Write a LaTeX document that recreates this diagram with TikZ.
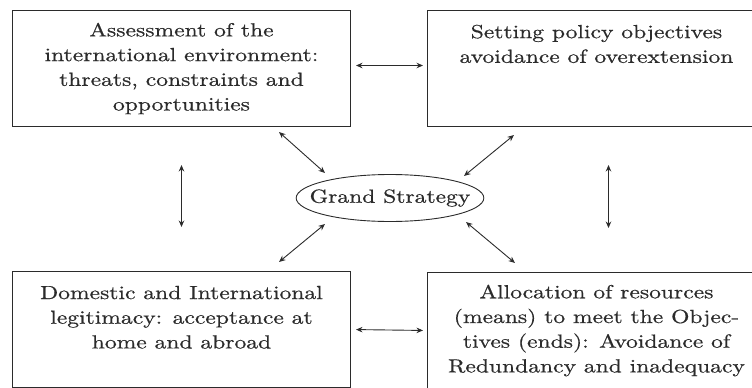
\documentclass[tikz,border=0pt]{standalone}
\usepackage{fontspec}
\setmainfont{lmroman10-regular.otf}[FakeStretch=1.24, FakeBold=0.6]
\usetikzlibrary{arrows.meta,positioning,shapes.geometric}
\definecolor{ink}{HTML}{2B2B2B}

\begin{document}
\begin{tikzpicture}[x=1pt, y=-1pt,
  panel/.style={draw=ink, line width=1pt, minimum width=338pt, minimum height=116pt,
                align=center, inner sep=0pt, text=ink, font=\fontsize{19}{24.7}\selectfont},
  hub/.style={draw=ink, ellipse, line width=0.9pt, minimum width=187pt, minimum height=47pt,
              inner xsep=-14pt, inner ysep=0pt, text=ink, font=\fontsize{19}{23}\selectfont},
  arr/.style={{Stealth[length=6.5pt,width=5.5pt]}-{Stealth[length=6.5pt,width=5.5pt]}, line width=0.9pt, draw=ink},
]
  \useasboundingbox (0,0) rectangle (752,388);
  \clip (0,0) rectangle (752,388);

  \node[panel, anchor=north west] (assess) at (12,10)
    {Assessment of the\\international environment:\\threats, constraints and\\opportunities};
  \node[panel, right=76pt of assess] (policy)
    {Setting policy objectives\\avoidance of overextension\\\mbox{}\\\mbox{}};
  \node[panel, below=144pt of assess] (legit)
    {Domestic and International\\legitimacy: acceptance at\\home and abroad\\\mbox{}};
  \node[panel, right=76pt of legit, yshift=-1pt] (alloc)
    {Allocation of resources\\(means) to meet the Objec-\\tives (ends): Avoidance of\\Redundancy and inadequacy};

  \node[hub] (gs) at (390,198) {Grand Strategy};

  % links between the panels
  \draw[arr, shorten <=5pt, shorten >=4pt] ([yshift=3pt]assess.east) -- ([yshift=3pt]policy.west);
  \draw[arr, shorten <=5pt, shorten >=4pt] (legit.east) -- (alloc.west);
  \draw[arr, shorten <=38pt, shorten >=44pt] (assess.south) -- (legit.north);
  \draw[arr, shorten <=38pt, shorten >=44pt] ([xshift=12pt]policy.south) -- ([xshift=12pt]alloc.north);

  % links to the hub
  \draw[arr] ([shift={(-72,5)}]assess.south east) -- ([shift={(-65,-25)}]gs.center);
  \draw[arr] ([shift={(87,8)}]policy.south west) -- ([shift={(74,-22)}]gs.center);
  \draw[arr] ([shift={(-72,-9)}]legit.north east) -- ([shift={(-65,26)}]gs.center);
  \draw[arr] ([shift={(88,-9)}]alloc.north west) -- ([shift={(76,24)}]gs.center);
\end{tikzpicture}
\end{document}
